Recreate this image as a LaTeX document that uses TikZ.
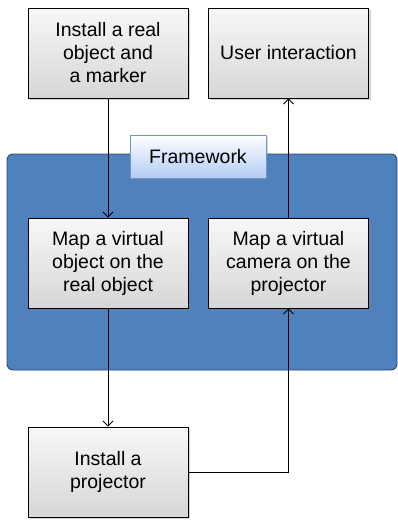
\documentclass[tikz,border=0pt]{standalone}
\usepackage{fontspec}
\setmainfont{Liberation Sans}
\usetikzlibrary{arrows.meta,positioning,shadows}
\definecolor{panelblue}{RGB}{79,129,189}
\definecolor{paneledge}{RGB}{45,70,110}
\definecolor{tagblue}{RGB}{178,204,245}
\definecolor{tagedge}{RGB}{110,150,205}
\tikzset{
  stepbox/.style={draw=black,line width=0.9pt,top color=gray!6,bottom color=gray!32,
    minimum width=160pt,minimum height=90pt,align=center,
    font=\fontsize{19.5}{23}\selectfont,
    drop shadow={shadow xshift=2pt,shadow yshift=-2pt,opacity=0.35}},
  tagbox/.style={draw=tagedge,line width=0.8pt,top color=white,bottom color=tagblue,
    minimum width=136pt,minimum height=43pt,font=\fontsize{19.5}{22}\selectfont,
    drop shadow={shadow xshift=1.5pt,shadow yshift=-1.5pt,opacity=0.3}},
  flow/.style={line width=0.8pt,-{Straight Barb[length=5pt,width=10pt]}}
}

\begin{document}
\begin{tikzpicture}[x=1pt,y=-1pt]
  \useasboundingbox (0,0) rectangle (398,520);

  % framework panel
  \draw[fill=panelblue,draw=paneledge,line width=0.9pt,rounded corners=6pt]
    (7,154) rectangle (397,370);

  \node[stepbox] (real) at (108,53) {Install a real\\object and\\a marker};
  \node[stepbox] (user) at (288.5,53) {User interaction};
  \node[stepbox] (mapobj) at (108,263) {Map a virtual\\object on the\\real object};
  \node[stepbox] (mapcam) at (288.5,263) {Map a virtual\\camera on the\\projector};
  \node[stepbox] (proj) at (108,472) {Install a\\projector};

  \draw[flow] (real) -- (mapobj);
  \draw[flow] (mapcam) -- (user);
  \draw[flow] (mapobj) -- (proj);
  \draw[flow] (proj.east) -| (mapcam.south);

  \node[tagbox] (frame) at (198,156.5) {Framework};
\end{tikzpicture}
\end{document}
